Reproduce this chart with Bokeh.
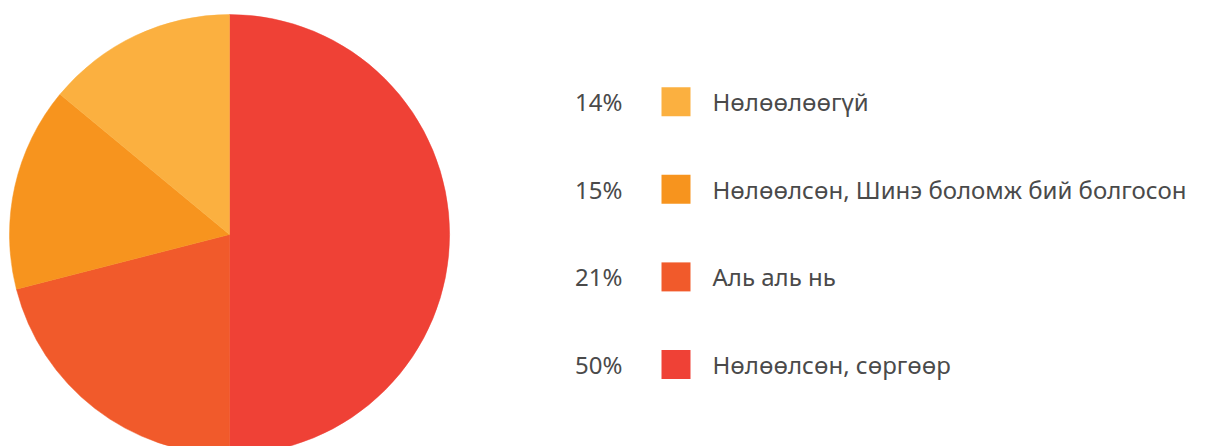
import numpy as np
from bokeh.plotting import figure
from bokeh.models import Range1d, ColumnDataSource
from bokeh.core.properties import value
from bokeh.embed import file_html
from bokeh.resources import INLINE

# Data (clockwise from 12 o'clock)
labels = ["Нөлөөлсөн, сөргөөр", "Аль аль нь", "Нөлөөлсөн, Шинэ боломж бий болгосон", "Нөлөөлөөгүй"]
shares = [50, 21, 15, 14]
colors = ["#EF4136", "#F15A2B", "#F7941E", "#FBB040"]

W, H = 1201, 446
p = figure(width=W, height=H, output_backend="svg", toolbar_location=None,
           x_range=Range1d(0, W), y_range=Range1d(0, H), min_border=0)
p.axis.visible = False
p.grid.visible = False
p.outline_line_color = None
p.background_fill_color = "white"

frac = np.array(shares, dtype=float) / sum(shares)
cum = np.concatenate([[0], np.cumsum(frac)])
start = np.pi / 2 - cum[:-1] * 2 * np.pi
end = np.pi / 2 - cum[1:] * 2 * np.pi
cx, cy, r = 229, H - 234, 220
src = ColumnDataSource(dict(start=start, end=end, color=colors))
p.wedge(x=cx, y=cy, radius=r, start_angle="start", end_angle="end", direction="clock",
        fill_color="color", line_color="color", line_width=0.5, source=src)

# Legend (top to bottom: reverse order)
order = list(range(len(labels)))[::-1]
row_y = [H - (101.2 + 87.6 * i) for i in range(len(order))]
pct_txt = [f"{shares[k]}%" for k in order]
leg = ColumnDataSource(dict(y=row_y, pct=pct_txt, lab=[labels[k] for k in order],
                            color=[colors[k] for k in order]))
font = value("Noto Sans")
p.text(x=622, y="y", text="pct", source=leg, text_font=font, text_font_size="24px",
       text_color="#4a4a4a", text_align="right", text_baseline="middle")
p.rect(x=675.5, y="y", width=29, height=29, fill_color="color", line_color=None, source=leg)
p.text(x=712, y="y", text="lab", source=leg, text_font=font, text_font_size="24px",
       text_color="#4a4a4a", text_align="left", text_baseline="middle")

open("out.html", "w").write(file_html(p, INLINE))
